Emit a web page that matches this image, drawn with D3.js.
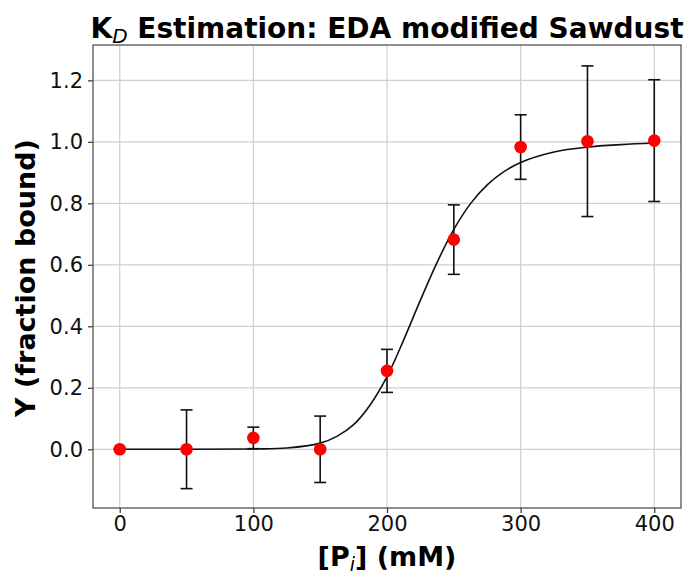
<!DOCTYPE html>
<html>
<head>
<meta charset="utf-8">
<script src="https://cdn.jsdelivr.net/npm/d3@7"></script>
<style>
  body { margin: 0; background: #fff; }
  svg { display: block; font-family: "DejaVu Sans", sans-serif; }
</style>
</head>
<body>
<div id="chart"></div>
<script>
// measured points (concentration in mM, fraction bound, std error)
var conc = [0, 50, 100, 150, 200, 250, 300, 350, 400];
var bound = [0.0, 0.0, 0.037, 0.0, 0.255, 0.682, 0.983, 1.002, 1.004];
var err = [0.0, 0.128, 0.035, 0.108, 0.07, 0.113, 0.105, 0.245, 0.198];

// fitted curve
var fitX = [0, 100, 125, 150, 162.5, 175, 187.5, 200, 212.5, 225, 237.5, 250, 262.5, 275, 287.5, 300, 325, 350, 375, 400];
var fitY = [0, 0.001, 0.004, 0.02, 0.042, 0.08, 0.145, 0.236, 0.356, 0.485, 0.608, 0.715, 0.799, 0.86, 0.903, 0.933, 0.967, 0.983, 0.991, 0.996];

var xTicks = [0, 100, 200, 300, 400];
var yTicks = [0.0, 0.2, 0.4, 0.6, 0.8, 1.0, 1.2];

var W = 699, H = 574;
var margin = {top: 45, right: 18, bottom: 66, left: 93};
var w = W - margin.left - margin.right;
var h = H - margin.top - margin.bottom;

var svg = d3.select('#chart').append('svg')
    .attr('width', W)
    .attr('height', H);

var g = svg.append('g')
    .attr('transform', 'translate(' + margin.left + ',' + margin.top + ')');

var x = d3.scaleLinear().domain([-20, 420]).range([0, w]);
var y = d3.scaleLinear().domain([-0.191, 1.315]).range([h, 0]);

// grid
g.append('g').selectAll('line')
    .data(xTicks)
  .enter().append('line')
    .attr('x1', function (d) { return x(d); })
    .attr('x2', function (d) { return x(d); })
    .attr('y1', 0).attr('y2', h)
    .style('stroke', '#cfcfcf').style('stroke-width', 1.2);
g.append('g').selectAll('line')
    .data(yTicks)
  .enter().append('line')
    .attr('y1', function (d) { return y(d); })
    .attr('y2', function (d) { return y(d); })
    .attr('x1', 0).attr('x2', w)
    .style('stroke', '#cfcfcf').style('stroke-width', 1.2);

// axes
var xAxis = g.append('g')
    .attr('transform', 'translate(0,' + h + ')')
    .call(d3.axisBottom(x).tickValues(xTicks).tickSize(5).tickPadding(3)
      .tickFormat(d3.format('d')));
var yAxis = g.append('g')
    .call(d3.axisLeft(y).tickValues(yTicks).tickSize(5).tickPadding(5)
      .tickFormat(d3.format('.1f')));
[xAxis, yAxis].forEach(function (a) {
  a.select('.domain').remove();
  a.selectAll('line').style('stroke', '#333').style('stroke-width', 1.2);
  a.selectAll('text')
      .style('font-family', '"DejaVu Sans", sans-serif')
      .style('font-size', '21px')
      .style('fill', '#111');
});

// frame
g.append('rect')
    .attr('width', w).attr('height', h)
    .style('fill', 'none').style('stroke', '#444').style('stroke-width', 1.2);

// error bars
var bars = g.append('g').selectAll('g')
    .data(conc)
  .enter().append('g')
    .style('stroke', '#111').style('stroke-width', 1.6);
bars.append('line')
    .attr('x1', function (d) { return x(d); })
    .attr('x2', function (d) { return x(d); })
    .attr('y1', function (d, i) { return y(bound[i] - err[i]); })
    .attr('y2', function (d, i) { return y(bound[i] + err[i]); });
[-1, 1].forEach(function (s) {
  bars.append('line')
      .attr('x1', function (d) { return x(d) - 6; })
      .attr('x2', function (d) { return x(d) + 6; })
      .attr('y1', function (d, i) { return y(bound[i] + s * err[i]); })
      .attr('y2', function (d, i) { return y(bound[i] + s * err[i]); });
});

// fit
var line = d3.line()
    .x(function (d) { return x(d); })
    .y(function (d, i) { return y(fitY[i]); })
    .curve(d3.curveCatmullRom.alpha(0.5));
g.append('path')
    .attr('d', line(fitX))
    .style('fill', 'none').style('stroke', '#111').style('stroke-width', 1.6);

// points
g.append('g').selectAll('circle')
    .data(conc)
  .enter().append('circle')
    .attr('cx', function (d) { return x(d); })
    .attr('cy', function (d, i) { return y(bound[i]); })
    .attr('r', 6.3)
    .style('fill', '#ff0000');

// title
var title = svg.append('text')
    .attr('x', margin.left + w / 2)
    .attr('y', 38)
    .attr('text-anchor', 'middle')
    .style('font-size', '28px')
    .style('font-weight', 'bold');
title.append('tspan').text('K');
title.append('tspan').attr('dy', 5).style('font-size', '20px')
    .style('font-style', 'italic').style('font-weight', 'normal').text('D');
title.append('tspan').attr('dy', -5).text(' Estimation: EDA modified Sawdust');

// x label
var xl = svg.append('text')
    .attr('x', margin.left + w / 2)
    .attr('y', 566)
    .attr('text-anchor', 'middle')
    .style('font-size', '27px')
    .style('font-weight', 'bold');
xl.append('tspan').text('[P');
xl.append('tspan').attr('dy', 5).style('font-size', '19px')
    .style('font-style', 'italic').style('font-weight', 'normal').text('i');
xl.append('tspan').attr('dy', -5).text('] (mM)');

// y label
svg.append('text')
    .attr('transform', 'translate(35,' + 278 + ') rotate(-90)')
    .attr('text-anchor', 'middle')
    .style('font-size', '27px')
    .style('font-weight', 'bold')
    .text('Y (fraction bound)');
</script>
</body>
</html>
